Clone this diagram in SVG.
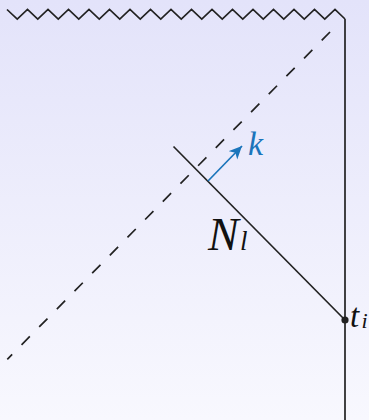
<svg xmlns="http://www.w3.org/2000/svg" width="369" height="420" viewBox="0 0 369 420">
<style>
.ln{fill:none;stroke:#222;stroke-width:1.7;stroke-linejoin:miter}
.math{font-family:"Liberation Serif","DejaVu Serif",serif;font-style:italic;fill:#111}
</style>
<defs>
<linearGradient id="bg" x1="0" y1="0" x2="0" y2="1">
<stop offset="0" stop-color="#e3e3fa"/>
<stop offset="1" stop-color="#f8f8fe"/>
</linearGradient>
<marker id="ah" markerUnits="userSpaceOnUse" markerWidth="16" markerHeight="14" refX="13" refY="6" orient="auto">
<path d="M0,0 L13,6 L0,12 L3.5,6 Z" fill="#1b75bb"/>
</marker>
</defs>
<rect width="369" height="420" fill="url(#bg)"/>
<g id="singularity">
<polyline class="ln" points="7,9.5 17.25,19 27.5,9.5 37.75,19 48,9.5 58.25,19 68.5,9.5 78.75,19 89,9.5 99.25,19 109.5,9.5 119.75,19 130,9.5 140.25,19 150.5,9.5 160.75,19 171,9.5 181.25,19 191.5,9.5 201.75,19 212,9.5 222.25,19 232.5,9.5 242.75,19 253,9.5 263.25,19 273.5,9.5 283.75,19 294,9.5 304.25,19 314.5,9.5 324.75,19 335,9.5 345,19"/>
</g>
<g id="connectors">
<line id="worldline" class="ln" x1="345" y1="19" x2="345" y2="420"/>
<line id="horizon" class="ln" x1="330" y1="32" x2="7.3" y2="359.3" stroke-dasharray="11.8 13.35"/>
<line id="Nl-line" class="ln" x1="173.5" y1="146.5" x2="345" y2="320"/>
<line id="k-arrow" x1="208" y1="181" x2="242" y2="146" stroke="#1b75bb" stroke-width="1.7" marker-end="url(#ah)"/>
</g>
<g id="ti">
<circle cx="345" cy="320" r="3.6" fill="#222"/>
<text class="math" x="350" y="327" font-size="33">t</text>
<text class="math" x="361.5" y="328" font-size="22">i</text>
</g>
<g id="Nl">
<text class="math" x="208" y="250" font-size="46">N</text>
<text class="math" x="240" y="250" font-size="27">l</text>
</g>
<g id="k">
<text class="math" x="248" y="155" font-size="34" style="fill:#1b75bb">k</text>
</g>
</svg>
